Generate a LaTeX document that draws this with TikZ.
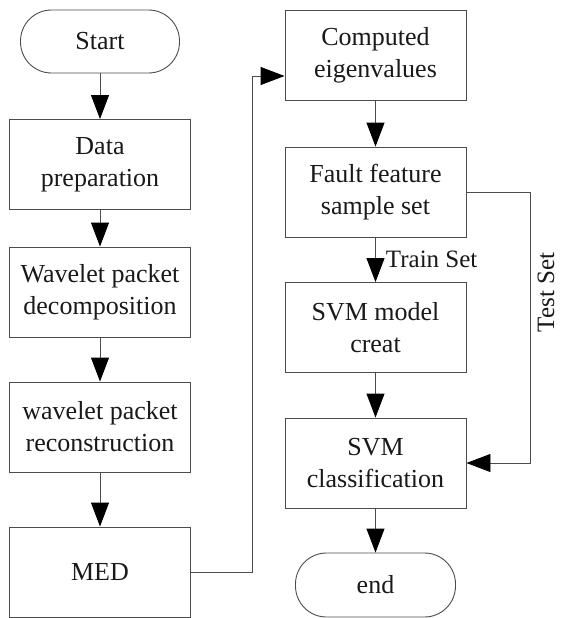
\documentclass[tikz,border=0pt]{standalone}
\usepackage{fontspec}
\setmainfont{Liberation Serif}
\usetikzlibrary{arrows.meta}
\begin{document}
\begin{tikzpicture}[x=1pt,y=-1pt,
  box/.style={draw=black!70, line width=0.9pt, minimum width=181pt, minimum height=90pt,
    align=center, inner sep=0pt, font=\fontsize{26}{32}\selectfont, text=black!90},
  term/.style={box, minimum width=159pt, minimum height=63pt, rounded corners=31pt},
  arr/.style={draw=black!70, line width=0.9pt, -{Triangle[length=24pt,width=18pt,color=black]}},
  lbl/.style={font=\fontsize{25}{30}\selectfont, text=black!90, inner sep=0pt}]
\useasboundingbox (0,0) rectangle (560,618);
% left column
\node[term] (start) at (100,41.5) {Start};
\node[box] (data) at (100,164.5) {Data\\preparation};
\node[box] (dec) at (100,292) {Wavelet packet\\decomposition};
\node[box] (rec) at (100,427) {wavelet packet\\reconstruction};
\node[box] (med) at (100,572) {MED};
% right column
\node[box] (comp) at (375.5,55.5) {Computed\\eigenvalues};
\node[box] (fault) at (375.5,192) {Fault feature\\sample set};
\node[box] (model) at (375.5,327.5) {SVM model\\creat};
\node[box] (cls) at (375.5,463) {SVM\\classification};
\node[term, minimum width=160pt, minimum height=64pt] (end) at (375.5,585) {end};
% connectors
\draw[arr] (start) -- (data);
\draw[arr] (data) -- (dec);
\draw[arr] (dec) -- (rec);
\draw[arr] (rec) -- (med);
\coordinate (up) at (252,76);
\draw[arr] (med.east) -| (up) -- (up -| comp.west);
\draw[arr] (comp) -- (fault);
\draw[arr] (fault) -- node[lbl, right, xshift=10pt] {Train Set} (model);
\draw[arr] (model) -- (cls);
\draw[arr] (cls) -- (end);
\draw[arr] (fault.east) -- ++(64,0) |- (cls.east);
\node[lbl, rotate=90] (test) at (546,292.5) {Test Set};
\end{tikzpicture}
\end{document}
